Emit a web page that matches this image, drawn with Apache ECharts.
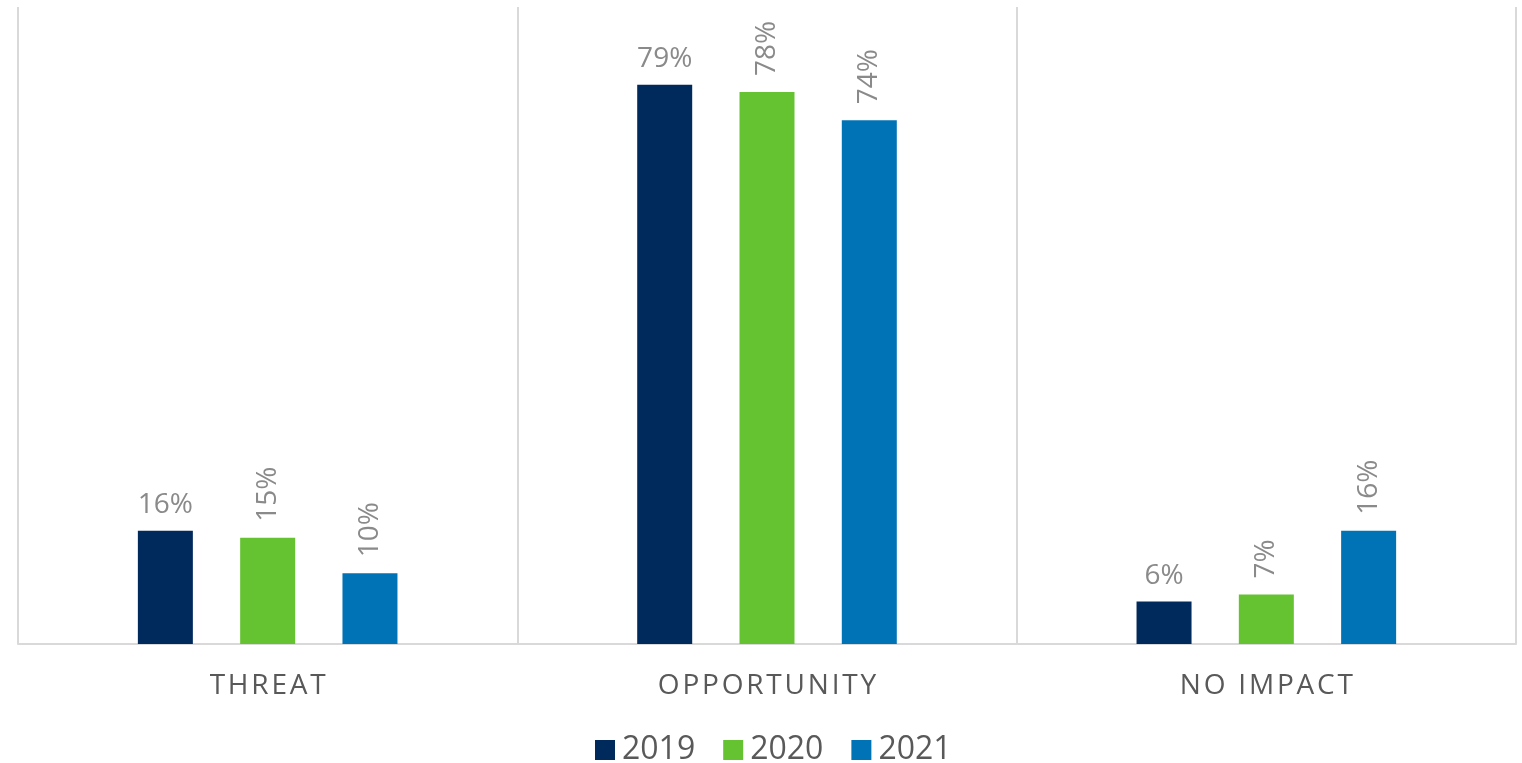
<!DOCTYPE html>
<html>
<head>
<meta charset="utf-8">
<script src="https://cdn.jsdelivr.net/npm/echarts@6/dist/echarts.min.js"></script>
<style>
  html, body { margin: 0; padding: 0; background: #ffffff; }
  #chart { width: 1522px; height: 763px; }
</style>
</head>
<body>
<div id="chart"></div>
<script>
// Share of respondents by perceived impact, per survey year
const categories = ['THREAT', 'OPPORTUNITY', 'NO IMPACT'];
const years = ['2019', '2020', '2021'];
const values2019 = [16, 79, 6];
const values2020 = [15, 78, 7];
const values2021 = [10, 74, 16];

const colors = ['#002a5c', '#65c332', '#0073b6'];
const FONT = '"Open Sans", "Noto Sans", sans-serif';

const chart = echarts.init(document.getElementById('chart'));

// Value labels: first year sits flat above its bar, later years run upward
function barLabel(rotated) {
  const base = {
    show: true,
    position: 'top',
    formatter: '{c}%',
    color: '#8a8a8a',
    fontFamily: FONT,
    fontSize: 28
  };
  if (rotated) {
    return Object.assign(base, { rotate: 90, align: 'left', verticalAlign: 'middle', distance: 16 });
  }
  return Object.assign(base, { distance: 12 });
}

const seriesValues = [values2019, values2020, values2021];

chart.setOption({
  animation: false,
  backgroundColor: '#ffffff',
  color: colors,
  grid: { left: 18, right: 6, top: 7, bottom: 119 },
  legend: {
    data: years,
    top: 734,
    left: 595,
    padding: 0,
    icon: 'rect',
    itemWidth: 20,
    itemHeight: 20,
    itemGap: 28,
    textStyle: { color: '#595959', fontFamily: FONT, fontSize: 32, padding: [0, 0, 0, 2] }
  },
  xAxis: {
    type: 'category',
    data: categories,
    axisLine: { lineStyle: { color: '#d9d9d9', width: 2 } },
    axisTick: { show: false },
    splitLine: { show: true, lineStyle: { color: '#d9d9d9', width: 2 } },
    axisLabel: {
      color: '#595959',
      fontFamily: FONT,
      fontSize: 28,
      margin: 28,
      formatter: v => v.split('').join('\u200A')
    }
  },
  yAxis: {
    type: 'value',
    min: 0,
    max: 90,
    show: false,
    splitLine: { show: false }
  },
  series: years.map((y, i) => ({
    name: y,
    type: 'bar',
    data: seriesValues[i],
    barWidth: 55,
    barGap: '86%',
    label: barLabel(i > 0)
  }))
});
</script>
</body>
</html>
